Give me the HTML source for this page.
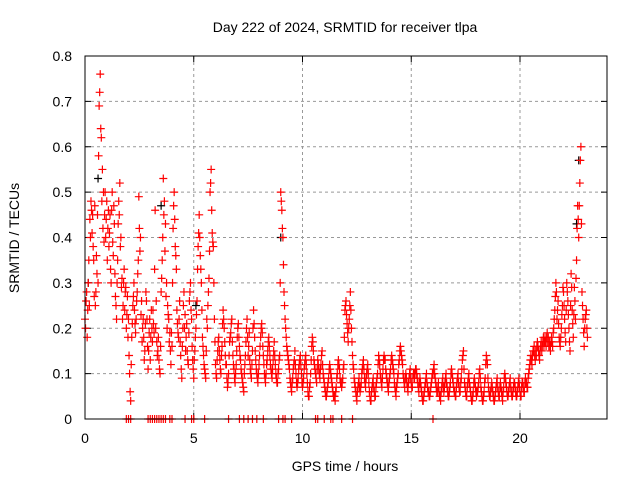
<!DOCTYPE html>
<html><head><meta charset="utf-8"><style>
body{margin:0;background:#fff;}
svg{display:block;font-family:"Liberation Sans",sans-serif;}
</style></head><body>
<svg id="chart" width="640" height="480">
<text x="345" y="32" text-anchor="middle" font-size="14">Day 222 of 2024, SRMTID for receiver tlpa</text>
<text x="345" y="471" text-anchor="middle" font-size="14">GPS time / hours</text>
<text transform="translate(19,238) rotate(-90)" text-anchor="middle" font-size="14">SRMTID / TECUs</text>
<g id="grid"></g><g id="ticks"></g><g id="marks"></g>
<rect x="85" y="56" width="522" height="363" fill="none" stroke="#000" stroke-width="1"/>
</svg>
<script>
const xTicks=[0,5,10,15,20];
const yTicks=[0,0.1,0.2,0.3,0.4,0.5,0.6,0.7,0.8];
const yTickLabels=["0","0.1","0.2","0.3","0.4","0.5","0.6","0.7","0.8"];
const timeStep=0.05;
const srmtid=[
0.22,0.26,0.18,0.30,0.25,0.40,0.46,0.45,0.35,0.47,0.28,0.32,0.30,0.69,0.76,0.62,0.55,0.50,0.45,0.40,
0.48,0.42,0.38,0.45,0.30,0.50,0.36,0.43,0.27,0.22,0.35,0.48,0.52,0.40,0.31,0.25,0.33,0.28,0.20,0.27,
0.22,0.10,0.04,0.18,0.25,0.30,0.21,0.22,0.28,0.35,0.42,0.40,0.26,0.20,0.18,0.15,0.28,0.22,0.11,0.19,
0.13,0.24,0.17,0.21,0.33,0.20,0.17,0.15,0.13,0.10,0.28,0.35,0.53,0.48,0.43,0.30,0.25,0.22,0.19,0.12,
0.16,0.42,0.50,0.38,0.33,0.21,0.18,0.26,0.14,0.09,0.20,0.28,0.23,0.18,0.15,0.12,0.26,0.30,0.22,0.13,
0.09,0.15,0.20,0.26,0.38,0.45,0.36,0.30,0.18,0.14,0.11,0.09,0.22,0.25,0.31,0.50,0.55,0.41,0.38,0.22,
0.12,0.09,0.15,0.18,0.13,0.10,0.16,0.24,0.20,0.14,0.12,0.07,0.10,0.17,0.19,0.22,0.14,0.11,0.08,0.12,
0.18,0.21,0.16,0.13,0.10,0.08,0.06,0.12,0.17,0.22,0.14,0.19,0.11,0.09,0.15,0.24,0.18,0.13,0.10,0.08,
0.12,0.16,0.20,0.19,0.14,0.10,0.08,0.12,0.15,0.18,0.14,0.11,0.09,0.13,0.17,0.12,0.09,0.08,0.11,0.14,
0.50,0.46,0.40,0.28,0.22,0.18,0.15,0.13,0.11,0.08,0.06,0.09,0.12,0.15,0.10,0.07,0.09,0.12,0.14,0.10,
0.07,0.09,0.12,0.14,0.10,0.06,0.05,0.08,0.13,0.18,0.15,0.12,0.10,0.08,0.13,0.11,0.09,0.12,0.15,0.10,
0.08,0.06,0.05,0.07,0.09,0.12,0.10,0.08,0.06,0.05,0.04,0.07,0.10,0.13,0.11,0.08,0.07,0.09,0.12,0.24,
0.26,0.21,0.17,0.22,0.28,0.20,0.14,0.11,0.08,0.06,0.04,0.07,0.09,0.06,0.08,0.11,0.13,0.09,0.07,0.10,
0.12,0.08,0.05,0.04,0.07,0.09,0.06,0.05,0.08,0.10,0.14,0.12,0.09,0.07,0.11,0.14,0.13,0.10,0.08,0.06,
0.09,0.11,0.14,0.12,0.10,0.07,0.05,0.08,0.10,0.13,0.16,0.14,0.12,0.09,0.07,0.10,0.08,0.06,0.09,0.11,
0.08,0.07,0.10,0.09,0.11,0.10,0.08,0.06,0.09,0.07,0.05,0.04,0.06,0.08,0.10,0.07,0.06,0.05,0.07,0.09,
0.10,0.12,0.09,0.07,0.06,0.08,0.05,0.04,0.07,0.09,0.06,0.08,0.10,0.07,0.05,0.06,0.08,0.11,0.09,0.07,
0.06,0.05,0.08,0.10,0.07,0.06,0.09,0.13,0.15,0.08,0.06,0.05,0.08,0.10,0.07,0.05,0.04,0.06,0.09,0.07,
0.05,0.06,0.08,0.11,0.07,0.05,0.04,0.06,0.09,0.14,0.12,0.07,0.05,0.06,0.08,0.06,0.04,0.05,0.07,0.09,
0.06,0.05,0.08,0.06,0.04,0.07,0.10,0.08,0.06,0.05,0.07,0.09,0.06,0.05,0.07,0.08,0.06,0.05,0.07,0.09,
0.06,0.05,0.08,0.07,0.06,0.09,0.08,0.07,0.10,0.12,0.14,0.12,0.15,0.16,0.13,0.14,0.17,0.15,0.13,0.16,
0.15,0.17,0.16,0.18,0.16,0.19,0.18,0.17,0.15,0.18,0.16,0.20,0.24,0.30,0.22,0.26,0.18,0.16,0.20,0.25,
0.28,0.22,0.17,0.30,0.26,0.20,0.15,0.32,0.24,0.18,0.29,0.22,0.35,0.47,0.40,0.52,0.60,0.28,0.22,0.16,
0.22,0.24,0.18];
const srmtidB=[
0.20,0.28,0.24,0.35,0.44,0.48,0.41,0.38,0.27,0.25,0.36,0.45,0.58,0.72,0.64,0.48,0.42,0.39,0.50,0.44,
0.35,0.46,0.41,0.33,0.46,0.39,0.47,0.32,0.25,0.30,0.43,0.45,0.38,0.29,0.22,0.30,0.24,0.29,0.23,0.18,
0.14,0.06,0.12,0.21,0.27,0.24,0.19,0.26,0.32,0.49,0.37,0.23,0.17,0.22,0.13,0.21,0.26,0.16,0.15,0.22,
0.18,0.20,0.24,0.19,0.46,0.26,0.14,0.18,0.11,0.16,0.31,0.40,0.45,0.37,0.27,0.20,0.23,0.17,0.15,0.19,
0.30,0.47,0.44,0.36,0.24,0.19,0.22,0.17,0.11,0.16,0.25,0.20,0.15,0.21,0.13,0.19,0.28,0.24,0.16,0.11,
0.13,0.18,0.23,0.33,0.41,0.40,0.33,0.24,0.16,0.12,0.10,0.15,0.20,0.28,0.37,0.52,0.46,0.39,0.30,0.17,
0.10,0.13,0.17,0.15,0.11,0.14,0.21,0.22,0.17,0.12,0.09,0.08,0.14,0.18,0.21,0.17,0.12,0.09,0.10,0.15,
0.20,0.18,0.14,0.11,0.09,0.07,0.10,0.14,0.20,0.18,0.16,0.13,0.10,0.12,0.20,0.21,0.15,0.11,0.09,0.10,
0.14,0.18,0.21,0.16,0.12,0.09,0.10,0.13,0.17,0.16,0.12,0.10,0.11,0.15,0.14,0.10,0.08,0.10,0.13,0.30,
0.48,0.42,0.34,0.25,0.20,0.16,0.14,0.12,0.09,0.07,0.08,0.11,0.13,0.12,0.08,0.08,0.11,0.13,0.12,0.08,
0.08,0.11,0.13,0.12,0.08,0.05,0.07,0.10,0.16,0.17,0.13,0.11,0.09,0.11,0.12,0.10,0.11,0.14,0.12,0.09,
0.07,0.05,0.06,0.08,0.11,0.11,0.09,0.07,0.05,0.05,0.06,0.09,0.12,0.12,0.09,0.08,0.08,0.11,0.18,0.25,
0.23,0.19,0.20,0.25,0.24,0.17,0.12,0.09,0.07,0.05,0.06,0.08,0.07,0.07,0.10,0.12,0.11,0.08,0.09,0.11,
0.10,0.06,0.04,0.06,0.08,0.07,0.05,0.07,0.09,0.12,0.13,0.10,0.08,0.09,0.13,0.13,0.11,0.09,0.07,0.08,
0.10,0.13,0.13,0.11,0.08,0.06,0.07,0.09,0.12,0.15,0.15,0.13,0.10,0.08,0.09,0.09,0.07,0.08,0.10,0.09,
0.07,0.09,0.10,0.10,0.11,0.09,0.07,0.08,0.08,0.06,0.04,0.05,0.07,0.09,0.08,0.06,0.05,0.06,0.08,0.10,
0.11,0.10,0.08,0.06,0.07,0.06,0.05,0.06,0.08,0.07,0.07,0.09,0.08,0.06,0.05,0.07,0.10,0.10,0.08,0.06,
0.05,0.07,0.09,0.08,0.06,0.08,0.11,0.14,0.11,0.07,0.05,0.07,0.09,0.08,0.06,0.04,0.05,0.08,0.08,0.06,
0.06,0.07,0.10,0.09,0.06,0.04,0.05,0.08,0.12,0.13,0.09,0.06,0.05,0.07,0.07,0.05,0.04,0.06,0.08,0.07,
0.05,0.07,0.07,0.05,0.06,0.09,0.09,0.07,0.05,0.06,0.08,0.07,0.05,0.06,0.08,0.07,0.05,0.06,0.08,0.07,
0.05,0.07,0.08,0.06,0.08,0.08,0.07,0.09,0.11,0.13,0.13,0.14,0.15,0.14,0.15,0.16,0.16,0.14,0.15,0.17,
0.16,0.18,0.17,0.17,0.18,0.17,0.16,0.16,0.17,0.17,0.19,0.22,0.27,0.28,0.24,0.21,0.17,0.18,0.23,0.29,
0.25,0.19,0.24,0.28,0.23,0.17,0.25,0.29,0.21,0.23,0.26,0.31,0.42,0.44,0.47,0.57,0.43,0.25,0.19,0.20,
0.23,0.20];
const zeroTimes=[1.9,2.0,2.1,2.9,3.0,3.1,3.2,3.3,3.4,3.5,3.6,3.7,3.9,4.0,4.6,4.9,5.0,5.5,6.6,7.1,7.3,7.5,7.7,7.9,8.2,8.9,9.1,9.2,9.5,10.6,10.7,11.0,11.3,11.4,11.8,12.3,16.0];
const blackTimes=[0.15,0.6,3.5,5.1,9.0,22.7,22.6];
const blackVals=[0.3,0.53,0.47,0.25,0.4,0.57,0.43];

const NS="http://www.w3.org/2000/svg";
const X=t=>85+t*(522/24);
const Y=v=>419-v*(363/0.8);
function el(tag,attrs,parent){const e=document.createElementNS(NS,tag);for(const k in attrs)e.setAttribute(k,attrs[k]);parent.appendChild(e);return e;}
const grid=document.getElementById('grid'),ticks=document.getElementById('ticks'),marks=document.getElementById('marks');
xTicks.forEach(t=>{
  if(t>0){const g=el('line',{x1:X(t),x2:X(t),y1:56,y2:419,stroke:'#999','stroke-dasharray':'3,3'},grid);
  
  }
  el('line',{x1:X(t),x2:X(t),y1:419,y2:413,stroke:'#000'},ticks);
  el('line',{x1:X(t),x2:X(t),y1:56,y2:62,stroke:'#000'},ticks);
  const l=el('text',{x:X(t),y:443,'text-anchor':'middle','font-size':14},ticks);l.textContent=t;
  
  
});
yTicks.forEach((v,i)=>{
  if(v>0&&v<0.8){const g=el('line',{x1:85,x2:607,y1:Y(v),y2:Y(v),stroke:'#999','stroke-dasharray':'3,3'},grid);
  
  }
  el('line',{x1:85,x2:91,y1:Y(v),y2:Y(v),stroke:'#000'},ticks);
  el('line',{x1:607,x2:601,y1:Y(v),y2:Y(v),stroke:'#000'},ticks);
  const l=el('text',{x:72,y:Y(v)+5,'text-anchor':'end','font-size':14},ticks);l.textContent=yTickLabels[i];
  
  
});
function plus(t,v,color,name){
  const x=X(t),y=Y(v);
  const p=el('path',{d:`M${x-4} ${y}H${x+4}M${x} ${y-4}V${y+4}`,stroke:color,'stroke-width':1.2,fill:'none'},marks);
  
  
}
blackTimes.forEach((t,i)=>plus(t,blackVals[i],'#000','srmtid-black-point'));
srmtid.forEach((v,i)=>plus(i*timeStep,v,'#f00','srmtid-point'));
srmtidB.forEach((v,i)=>plus(i*timeStep+timeStep/2,v,'#f00','srmtid-point'));
zeroTimes.forEach(t=>plus(t,0,'#f00','srmtid-zero-point'));
</script>
</body></html>
